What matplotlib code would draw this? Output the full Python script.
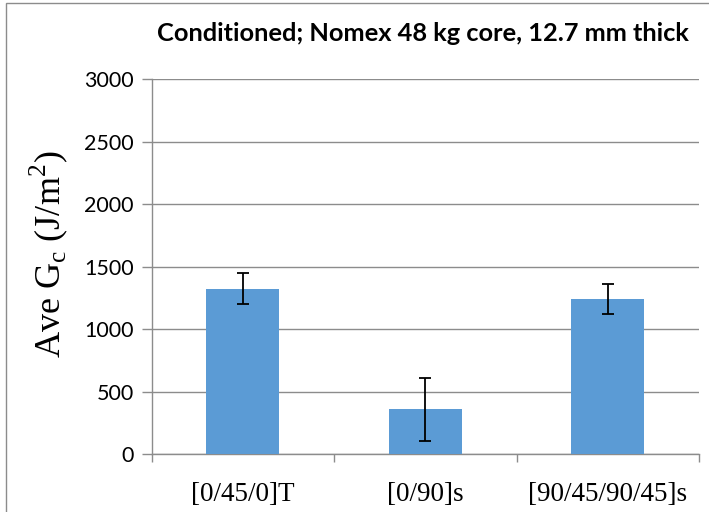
import matplotlib
matplotlib.use("Agg")
import matplotlib.pyplot as plt
from matplotlib.patches import Rectangle

# data
categories = ["[0/45/0]T", "[0/90]s", "[90/45/90/45]s"]
gc_values = [1325, 357, 1240]
gc_errors = [127, 250, 121]

plt.rcParams["mathtext.fontset"] = "custom"
plt.rcParams["mathtext.rm"] = "Liberation Serif"

fig = plt.figure(figsize=(7.09, 5.12), dpi=100)
ax = fig.add_axes([0.214, 0.1133, 0.772, 0.7318])

x = list(range(len(categories)))
ax.bar(x, gc_values, width=0.4, color="#5B9BD5", zorder=3)
ax.errorbar(x, gc_values, yerr=gc_errors, fmt="none", ecolor="black",
            elinewidth=1.3, capsize=4, capthick=1.3, zorder=4)

ax.set_xlim(-0.5, 2.5)
ax.set_ylim(0, 3000)
ax.set_yticks(range(0, 3001, 500))
ax.yaxis.grid(True, color="#8c8c8c", linewidth=1.0, zorder=0)

ax.set_xticks(x)
ax.set_xticklabels(categories, family="Liberation Serif", fontsize=19.5)
ax.set_xticks([-0.5, 0.5, 1.5, 2.5], minor=True)
ax.tick_params(axis="x", which="major", length=0, pad=20)
ax.tick_params(axis="x", which="minor", length=6, color="#8c8c8c", width=1)
ax.tick_params(axis="y", length=7, color="#8c8c8c", width=1, pad=6,
               labelsize=15.5)
for lab in ax.get_yticklabels():
    lab.set_family("Lato")

for side in ["top", "right"]:
    ax.spines[side].set_visible(False)
for side in ["left", "bottom"]:
    ax.spines[side].set_color("#8c8c8c")
    ax.spines[side].set_linewidth(1)

ax.set_ylabel(r"Ave G$_\mathregular{c}$ (J/m$^\mathregular{2}$)",
              family="Liberation Serif", fontsize=26)
ax.yaxis.set_label_coords(-0.15, 0.534)

fig.text(0.596, 0.935, "Conditioned; Nomex 48 kg core, 12.7 mm thick",
         ha="center", va="center", fontsize=18.3, fontweight="bold",
         family="Lato")

# outer frame (only left/top edges visible in the reference)
fig.patches.append(Rectangle((0.008, -0.1), 1.1, 1.094,
                             transform=fig.transFigure, fill=False,
                             edgecolor="#8c8c8c", linewidth=1))

fig.savefig("out.png", dpi=100)
